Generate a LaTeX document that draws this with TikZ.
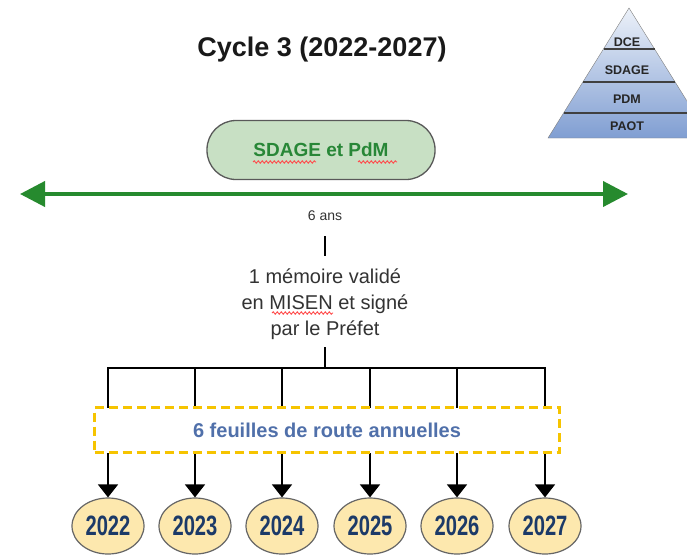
\documentclass[tikz,border=0pt]{standalone}
\usepackage{fontspec}
\setmainfont{Liberation Sans}
\usepackage{graphicx}
\usetikzlibrary{arrows.meta,shapes.geometric,decorations.pathmorphing}
\definecolor{arrowgreen}{RGB}{38,138,46}
\definecolor{boxgreen}{RGB}{200,224,196}
\definecolor{textgreen}{RGB}{40,135,55}
\definecolor{dashyellow}{RGB}{246,196,0}
\definecolor{routeblue}{RGB}{80,112,170}
\definecolor{yearfill}{RGB}{253,232,174}
\definecolor{yearblue}{RGB}{28,58,104}
\definecolor{pyrtop}{RGB}{236,241,249}
\definecolor{pyrbot}{RGB}{128,158,210}
\begin{document}
\begin{tikzpicture}[x=1pt,y=-1pt,
  year/.style={ellipse,draw=black!60,line width=1.2pt,fill=yearfill,minimum width=72pt,minimum height=56pt,inner sep=0pt,text=yearblue,font=\fontsize{28}{28}\selectfont\bfseries},
  level/.style={anchor=base,text=black!85,font=\fontsize{12.5}{12.5}\selectfont\bfseries},
  band/.style={line width=1.5pt,draw=black!75},
  tie/.style={line width=1.5pt,line cap=rect},
  down/.style={line width=1.5pt,-{Triangle[width=20pt,length=13pt]}},
  squiggle/.style={red!70,line width=0.9pt,decorate,decoration={snake,amplitude=1.2pt,segment length=4pt}}]
\useasboundingbox (0,0) rectangle (687,554);
\fill[white] (0,0) rectangle (687,554);
\node[anchor=base,font=\fontsize{27}{27}\selectfont\bfseries,text=black!90] (title) at (322,56) {Cycle 3 (2022-2027)};
\shadedraw[top color=pyrtop,bottom color=pyrbot,draw=black!50] (629,8) -- (548,138) -- (710,138) -- cycle;
\draw[band] (603.5,49) -- (654.5,49);
\draw[band] (583,82) -- (675,82);
\draw[band] (563.6,113) -- (694.4,113);
\node[level] (dce) at (627,46.5) {DCE};
\node[level] (sdage) at (627,74.5) {SDAGE};
\node[level] (pdm) at (627,103.5) {PDM};
\node[level] (paot) at (627,130.5) {PAOT};
\node[draw=black!65,line width=1.3pt,fill=boxgreen,rounded corners=29pt,minimum width=228pt,minimum height=59pt,text=textgreen,font=\fontsize{19}{19}\selectfont\bfseries] (plan) at (321,150) {SDAGE et PdM};
\draw[squiggle] (253,162) -- (316,162);
\draw[squiggle] (358,162) -- (397,162);
\coordinate (west) at (20,194);
\coordinate (east) at (628,194);
\draw[arrowgreen,line width=4pt,{Triangle[width=25pt,length=25pt]}-{Triangle[width=25pt,length=25pt]}] (west) -- (east);
\node[anchor=base,font=\fontsize{14}{14}\selectfont,text=black!80] (span) at (325,220) {6 ans};
\coordinate (t1) at (325,237);
\coordinate (t2) at (325,255);
\draw[tie] (t1) -- (t2);
\node[align=center,font=\fontsize{20}{26}\selectfont,text=black!80] (memo) at (325,304) {1 mémoire validé\\en MISEN et signé\\par le Préfet};
\draw[squiggle] (272,313) -- (333,313);
\coordinate (m) at (325,348);
\coordinate (hub) at (325,368);
\draw[tie] (m) -- (hub);
\coordinate (b1) at (108,368);
\coordinate (b2) at (195,368);
\coordinate (b3) at (282,368);
\coordinate (b4) at (370,368);
\coordinate (b5) at (457,368);
\coordinate (b6) at (545,368);
\draw[tie] (b1) -- (b6);
\node[year] (y1) at (108,526) {\scalebox{0.72}[1]{2022}};
\node[year] (y2) at (195,526) {\scalebox{0.72}[1]{2023}};
\node[year] (y3) at (282,526) {\scalebox{0.72}[1]{2024}};
\node[year] (y4) at (370,526) {\scalebox{0.72}[1]{2025}};
\node[year] (y5) at (457,526) {\scalebox{0.72}[1]{2026}};
\node[year] (y6) at (545,526) {\scalebox{0.72}[1]{2027}};
\draw[down] (b1) -- (y1);
\draw[down] (b2) -- (y2);
\draw[down] (b3) -- (y3);
\draw[down] (b4) -- (y4);
\draw[down] (b5) -- (y5);
\draw[down] (b6) -- (y6);
\node[draw=dashyellow,line width=3.5pt,dash pattern=on 9pt off 5pt,fill=white,minimum width=465pt,minimum height=45pt,text=routeblue,font=\fontsize{20}{20}\selectfont\bfseries] (route) at (327,430) {6 feuilles de route annuelles};
\end{tikzpicture}
\end{document}
